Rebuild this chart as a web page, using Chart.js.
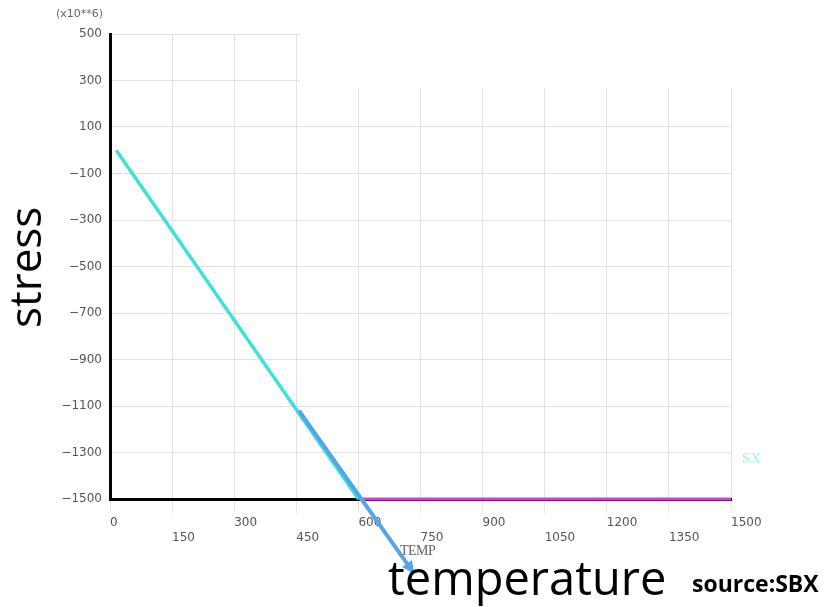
<!DOCTYPE html>
<html>
<head>
<meta charset="utf-8">
<script src="https://cdn.jsdelivr.net/npm/chart.js@4.4.1/dist/chart.umd.min.js"></script>
<style>
  body { margin: 0; background: #fff; }
  #wrap { position: relative; width: 832px; height: 607px; }
  .txt { position: absolute; white-space: nowrap; font-family: "Open Sans", sans-serif; color: #000; line-height: 1.362; }
</style>
</head>
<body>
<div id="wrap">
  <canvas id="stressChart" width="832" height="607"></canvas>
  <div class="txt" style="left:56px; top:7px; font-size:11px; color:#666; font-family:'DejaVu Sans';">(x10**6)</div>
  <div class="txt" style="left:742px; top:448px; font-size:15px; color:#a8ecec; font-family:'Liberation Serif';">SX</div>
  <div class="txt" style="left:400px; top:541px; font-size:14px; color:#666; font-family:'Liberation Serif'; letter-spacing:-0.5px;">TEMP</div>
  <div class="txt" style="left:-35px; top:238px; font-size:44px; transform:rotate(-90deg); transform-origin:center; width:120px; text-align:center;">stress</div>
  <div class="txt" style="left:388px; top:545px; font-size:47px;">temperature</div>
  <div class="txt" style="left:692px; top:568px; font-size:23px; font-weight:bold;">source:SBX</div>
</div>
<script>
// SX curve (temp, stress x10^6)
const coolTemps = [15, 600];
const coolStress = [0, -1500];
const hotTemps = [600, 1500];
const hotStress = [-1500, -1500];

// annotation arrow, in data units
const arrowFrom = [459, -1126];
const arrowTo = [735, -1822];

const xMin = 0, xMax = 1500, xStep = 150;
const yMin = -1500, yMax = 500, yStep = 200;

function toPoints(xs, ys) {
    return xs.map((x, i) => ({x: x, y: ys[i]}));
}

const overlayPlugin = {
    id: 'overlay',
    beforeDatasetsDraw(chart) {
        // blank patch at the top right of the grid
        const ctx = chart.ctx;
        ctx.save();
        ctx.fillStyle = '#fff';
        ctx.fillRect(300, 0, 532, 88);
        ctx.restore();
    },
    afterDatasetsDraw(chart) {
        const ctx = chart.ctx;
        const xs = chart.scales.x, ys = chart.scales.y;
        const x1 = xs.getPixelForValue(arrowFrom[0]), y1 = ys.getPixelForValue(arrowFrom[1]);
        const x2 = xs.getPixelForValue(arrowTo[0]), y2 = ys.getPixelForValue(arrowTo[1]);
        const ang = Math.atan2(y2 - y1, x2 - x1);
        ctx.save();
        ctx.strokeStyle = '#55a4e6';
        ctx.fillStyle = '#55a4e6';
        ctx.lineWidth = 4;
        ctx.lineCap = 'round';
        ctx.beginPath();
        ctx.moveTo(x1, y1);
        ctx.lineTo(x2 - 8 * Math.cos(ang), y2 - 8 * Math.sin(ang));
        ctx.stroke();
        ctx.beginPath();
        ctx.moveTo(x2, y2);
        ctx.lineTo(x2 - 14 * Math.cos(ang - 0.45), y2 - 14 * Math.sin(ang - 0.45));
        ctx.lineTo(x2 - 14 * Math.cos(ang + 0.45), y2 - 14 * Math.sin(ang + 0.45));
        ctx.closePath();
        ctx.fill();
        ctx.restore();
    }
};

new Chart(document.getElementById('stressChart'), {
    type: 'scatter',
    data: {
        datasets: [{
            label: 'SX',
            data: toPoints(coolTemps, coolStress),
            showLine: true,
            borderColor: '#3fe0dc',
            borderWidth: 3.5,
            pointRadius: 0,
            clip: false
        }, {
            label: 'SX hot',
            data: toPoints(hotTemps, hotStress),
            showLine: true,
            borderColor: '#d63fd6',
            borderWidth: 3,
            pointRadius: 0,
            clip: false
        }]
    },
    options: {
        responsive: false,
        animation: false,
        layout: { padding: { top: 34, right: 101, left: 0, bottom: 0 } },
        plugins: {
            legend: { display: false },
            tooltip: { enabled: false }
        },
        scales: {
            x: {
                type: 'linear',
                min: xMin,
                max: xMax,
                afterFit: scale => { scale.height = 108; },
                grid: { color: '#e2e2e2', tickLength: 14, tickColor: '#e8e8e8' },
                border: { color: '#000', width: 3 },
                ticks: {
                    stepSize: xStep,
                    align: 'start',
                    padding: 3,
                    color: '#555',
                    font: { family: 'DejaVu Sans', size: 12 },
                    callback: (v, i) => (i % 2 === 0 ? String(v) : ['', String(v)])
                }
            },
            y: {
                min: yMin,
                max: yMax,
                afterFit: scale => { scale.width = 110; },
                grid: { color: '#e2e2e2', drawTicks: false },
                border: { color: '#000', width: 3 },
                ticks: {
                    stepSize: yStep,
                    padding: 8,
                    color: '#555',
                    font: { family: 'DejaVu Sans', size: 12 },
                    callback: v => String(v).replace('-', '\u2212')
                }
            }
        }
    },
    plugins: [overlayPlugin]
});
</script>
</body>
</html>
